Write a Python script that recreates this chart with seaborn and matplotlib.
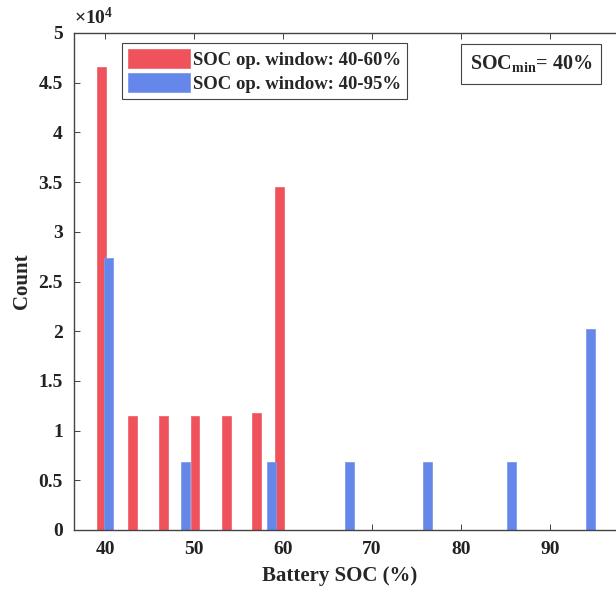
import numpy as np
import pandas as pd
import matplotlib
matplotlib.use('Agg')
import matplotlib.pyplot as plt
import seaborn as sns
from matplotlib.ticker import FuncFormatter

# SOC op. window 40-60%
soc_red = [39.6, 43.1, 46.6, 50.1, 53.6, 57.0, 59.6]
cnt_red = [46600, 11500, 11500, 11500, 11500, 11800, 34500]
# SOC op. window 40-95%
soc_blue = [40.4, 49.0, 58.7, 67.5, 76.2, 85.7, 94.5]
cnt_blue = [27400, 6800, 6800, 6800, 6800, 6800, 20200]

lab_red = 'SOC op. window: 40-60%'
lab_blue = 'SOC op. window: 40-95%'

sns.set_style('ticks')
plt.rcParams['font.family'] = ['Liberation Serif', 'DejaVu Serif']
plt.rcParams['font.weight'] = 'bold'
plt.rcParams['mathtext.fontset'] = 'custom'
plt.rcParams['mathtext.rm'] = 'Liberation Serif:bold'
plt.rcParams['mathtext.bf'] = 'Liberation Serif:bold'
plt.rcParams['mathtext.default'] = 'bf'

red = pd.DataFrame({'soc': soc_red, 'count': cnt_red})
blue = pd.DataFrame({'soc': soc_blue, 'count': cnt_blue})

fig = plt.figure(figsize=(6.16, 6.0), dpi=100)
ax = fig.add_axes([74/616, 1-530/600, 565/616, 497/600])

bar_w = 1.0
w_red = bar_w / np.diff(sorted(soc_red)).min()
w_blue = bar_w / np.diff(sorted(soc_blue)).min()
sns.barplot(data=red, x='soc', y='count', native_scale=True, width=w_red,
            color='#F0525C', edgecolor='#F06872', linewidth=0.6, saturation=1,
            label=lab_red, ax=ax, errorbar=None)
sns.barplot(data=blue, x='soc', y='count', native_scale=True, width=w_blue,
            color='#6687EA', edgecolor='#7E9AEE', linewidth=0.6, saturation=1,
            label=lab_blue, ax=ax, errorbar=None)

ax.set_xlim(36.5, 100)
ax.set_ylim(0, 50000)
ax.set_xticks([40, 50, 60, 70, 80, 90])
ax.set_yticks(np.arange(0, 50001, 5000))
ax.yaxis.set_major_formatter(FuncFormatter(lambda v, p: f'{v/1e4:g}'))
ax.tick_params(direction='in', top=True, right=True, length=4, width=0.6,
               labelsize=14, colors='#222222', pad=8)
for s in ax.spines.values():
    s.set_color('#444444')
    s.set_linewidth(1.0)

ax.set_xlabel('Battery SOC (%)', fontsize=15, fontweight='bold')
ax.set_ylabel('Count', fontsize=15, fontweight='bold')
ax.xaxis.set_label_coords(0.471, -0.072)
ax.yaxis.set_label_coords(-0.075, 0.5)

fig.text(74/616, 1-17/600, r'$\times\mathregular{10^4}$', fontsize=14,
         ha='left', va='center', color='#222222')

leg = ax.legend(loc='upper left', bbox_to_anchor=(122/616, 1-43/600),
                bbox_transform=fig.transFigure, borderaxespad=0,
                fontsize=13.5, handlelength=3.3, handleheight=1.2,
                handletextpad=0.2, borderpad=0.3, labelspacing=0.25,
                fancybox=False, framealpha=1, edgecolor='#444444')
leg.get_frame().set_linewidth(0.8)

fig.text(531/616, 1-64/600, r'SOC$_{min}$= 40%', fontsize=14.5,
         ha='center', va='center',
         bbox=dict(boxstyle='square,pad=0.45', fc='white', ec='#444444', lw=0.8))

plt.savefig('out.png', dpi=100)
